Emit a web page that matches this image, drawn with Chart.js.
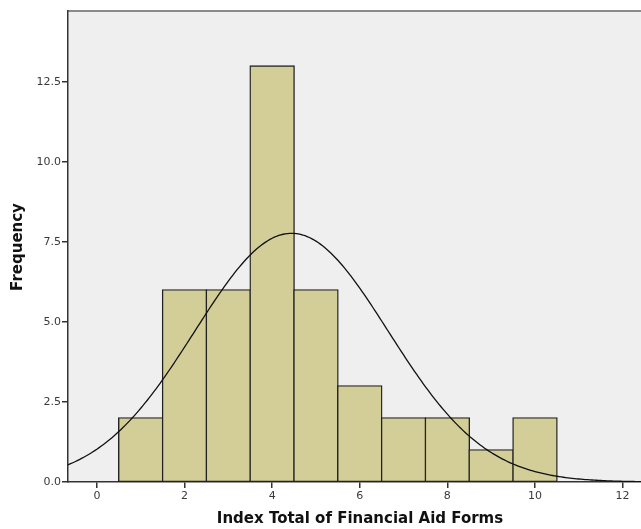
<!DOCTYPE html>
<html>
<head>
<meta charset="utf-8">
<script src="https://cdn.jsdelivr.net/npm/chart.js@4/dist/chart.umd.min.js"></script>
<style>
  html, body { margin: 0; padding: 0; background: #ffffff; }
  #wrap { width: 641px; height: 529px; position: relative; }
</style>
</head>
<body>
<div id="wrap"><canvas id="c" width="641" height="529"></canvas></div>
<script>
// Histogram bins (midpoints) and their counts
const binCenters = [1, 2, 3, 4, 5, 6, 7, 8, 9, 10];
const counts = [2, 6, 6, 13, 6, 3, 2, 2, 1, 2];
const binWidth = 1;
const xTickValues = [0, 2, 4, 6, 8, 10, 12];
const yTickValues = [0, 2.5, 5, 7.5, 10, 12.5];
const xAxisTitle = 'Index Total of Financial Aid Forms';
const yAxisTitle = 'Frequency';

// Fitted normal curve from the binned data
const n = counts.reduce((a, b) => a + b, 0);
const mean = binCenters.reduce((s, x, i) => s + x * counts[i], 0) / n;
const variance = binCenters.reduce((s, x, i) => s + counts[i] * (x - mean) ** 2, 0) / (n - 1);
const sd = Math.sqrt(variance);
const curveXs = [];
for (let x = -0.7; x <= 12.5; x += 0.05) curveXs.push(+x.toFixed(2));
const curvePoints = curveXs.map(x => ({
  x,
  y: n * binWidth * Math.exp(-0.5 * ((x - mean) / sd) ** 2) / (sd * Math.sqrt(2 * Math.PI))
}));

const plotArea = {
  id: 'plotArea',
  beforeDraw(chart) {
    const { ctx, chartArea: a } = chart;
    ctx.save();
    ctx.fillStyle = '#efefef';
    ctx.fillRect(a.left, a.top, a.right - a.left, a.bottom - a.top);
    ctx.strokeStyle = '#8a8a8a';
    ctx.lineWidth = 2;
    ctx.beginPath();
    ctx.moveTo(a.left, a.top);
    ctx.lineTo(a.right + 2, a.top);
    ctx.stroke();
    ctx.restore();
  },
  afterDraw(chart) {
    const { ctx } = chart;
    ctx.save();
    ctx.fillStyle = '#111';
    ctx.font = 'bold 15px "DejaVu Sans"';
    ctx.textAlign = 'center';
    ctx.textBaseline = 'middle';
    ctx.fillText(xAxisTitle, 360, 519);
    ctx.translate(18, 247);
    ctx.rotate(-Math.PI / 2);
    ctx.fillText(yAxisTitle, 0, 0);
    ctx.restore();
  }
};

new Chart(document.getElementById('c'), {
  type: 'bar',
  data: {
    datasets: [
      {
        type: 'line',
        data: curvePoints,
        borderColor: '#111',
        borderWidth: 1.3,
        pointRadius: 0,
        tension: 0,
        fill: false,
        order: 0
      },
      {
        type: 'bar',
        data: binCenters.map((x, i) => ({ x, y: counts[i] })),
        backgroundColor: '#d3ce97',
        borderColor: '#222',
        borderWidth: 1.4,
        borderSkipped: false,
        inflateAmount: 0.8,
        barPercentage: 1,
        categoryPercentage: 1,
        order: 1
      }
    ]
  },
  options: {
    responsive: false,
    animation: false,
    devicePixelRatio: 1,
    layout: { padding: { top: 11, right: 0, left: 0, bottom: 0 } },
    plugins: { legend: { display: false }, tooltip: { enabled: false } },
    scales: {
      x: {
        type: 'linear',
        min: -0.66,
        max: 12.42,
        offset: false,
        afterBuildTicks(scale) { scale.ticks = xTickValues.map(v => ({ value: v })); },
        afterFit(scale) { scale.height = 47; },
        grid: { display: true, offset: false, drawOnChartArea: false, drawTicks: true, tickLength: 6, color: '#333', lineWidth: 1.5 },
        border: { display: true, color: '#333', width: 1.5 },
        ticks: { color: '#3a3a3a', font: { family: '"DejaVu Sans"', size: 11 }, padding: 2, maxRotation: 0, autoSkip: false }
      },
      y: {
        type: 'linear',
        min: 0,
        max: 14.72,
        afterBuildTicks(scale) { scale.ticks = yTickValues.map(v => ({ value: v })); },
        afterFit(scale) { scale.width = 68; },
        grid: { display: true, drawOnChartArea: false, drawTicks: true, tickLength: 6, color: '#333', lineWidth: 1.5 },
        border: { display: true, color: '#333', width: 1.5 },
        ticks: {
          color: '#3a3a3a',
          font: { family: '"DejaVu Sans"', size: 11 },
          padding: 1,
          callback: v => Number(v).toFixed(1)
        }
      }
    }
  },
  plugins: [plotArea]
});
</script>
</body>
</html>
